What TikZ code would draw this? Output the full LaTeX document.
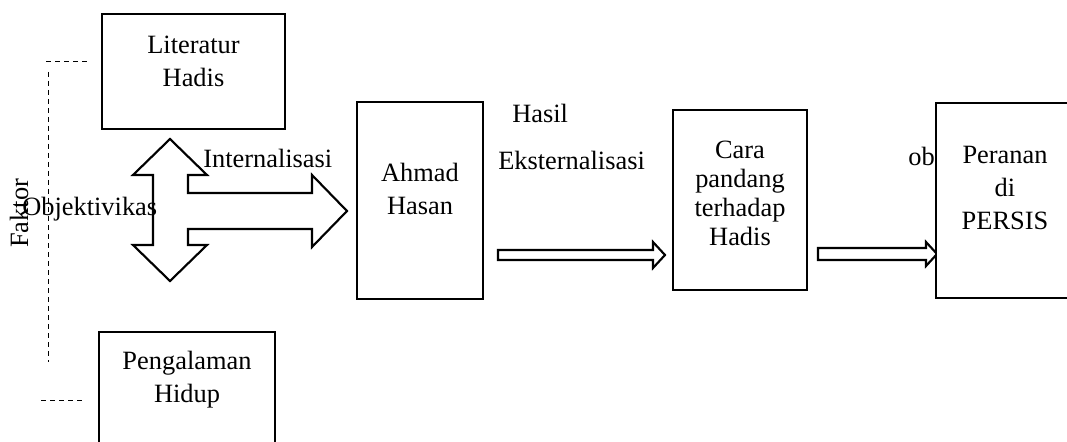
\documentclass[tikz,border=0pt]{standalone}
\usepackage{fontspec}
\setmainfont{Liberation Serif}
\usetikzlibrary{positioning}

\tikzset{
  kotak/.style={draw, line width=1.9pt, fill=white, inner sep=0pt},
  tulisan/.style={inner sep=0pt, align=center, font=\fontsize{19.8}{24.75}\selectfont},
  garis/.style={line width=0.6pt, dash pattern=on 3.75pt off 3pt},
  panah/.style={draw, line width=1.6pt, line join=miter}
}

\begin{document}
\begin{tikzpicture}[x=0.75pt, y=-0.75pt]
        \useasboundingbox (0,0) rectangle (1067,442);
        \clip (0,0) rectangle (1067,442);

        % faktor
        \node[tulisan, rotate=90, anchor=base west] (faktor) at (28,248) {Faktor};
        \draw[garis] (46,61) -- (88,61);
        \draw[garis] (48,72) -- (48,362);
        \draw[garis] (41,400) -- (83,400);

        % kotak kiri
        \node[kotak, minimum width=137.25pt, minimum height=86.25pt] (lit) at (193.5,71.5) {};
        \node[tulisan, below=17pt of lit.north] (littxt) {Literatur\\Hadis};
        \node[kotak, minimum width=132pt, minimum height=96pt] (peng) at (187,396) {};
        \node[tulisan, below=15pt of peng.north] (pengtxt) {Pengalaman\\Hidup};

        % panah silang
        \draw[panah] (170,139) -- (207,175) -- (188,175) -- (188,193) -- (312,193)
            -- (312,175) -- (347,211) -- (312,247) -- (312,229) -- (188,229)
            -- (188,245) -- (207,245) -- (170,281) -- (133,245) -- (153,245)
            -- (153,175) -- (133,175) -- cycle;
        \node[tulisan, anchor=base west] (obj) at (22,215) {Objektivikas};
        \node[tulisan, anchor=base west] (intern) at (203,168) {Internalisasi};

        % Ahmad Hasan
        \node[kotak, minimum width=94.5pt, minimum height=147.75pt] (ahmad) at (420,200.5) {};
        \node[tulisan, below=46.5pt of ahmad.north] (ahmadtxt) {Ahmad\\Hasan};

        \node[tulisan, anchor=base west] (hasil) at (512,123) {Hasil};
        \node[tulisan, anchor=base west] (ekstern) at (498,170) {Eksternalisasi};
        \draw[panah] (498,250) -- (653,250) -- (653,242) -- (665,255) -- (653,268)
            -- (653,260) -- (498,260) -- cycle;

        % cara pandang
        \node[kotak, minimum width=100.5pt, minimum height=135pt] (cara) at (740,200) {};
        \node[tulisan, font=\fontsize{19.8}{21.75}\selectfont, below=24pt of cara.north] (caratxt)
            {Cara\\pandang\\terhadap\\Hadis};

        \draw[panah] (818,248) -- (926,248) -- (926,242) -- (937,254) -- (926,266)
            -- (926,260) -- (818,260) -- cycle;
        \node[tulisan, anchor=base east] (ob) at (935,166) {ob};

        % peranan
        \node[kotak, minimum width=103.5pt, minimum height=146.25pt] (peran) at (1005,200.5) {};
        \node[tulisan, below=33pt of peran.north] (perantxt) {Peranan\\di\\PERSIS};
    \end{tikzpicture}
\end{document}
